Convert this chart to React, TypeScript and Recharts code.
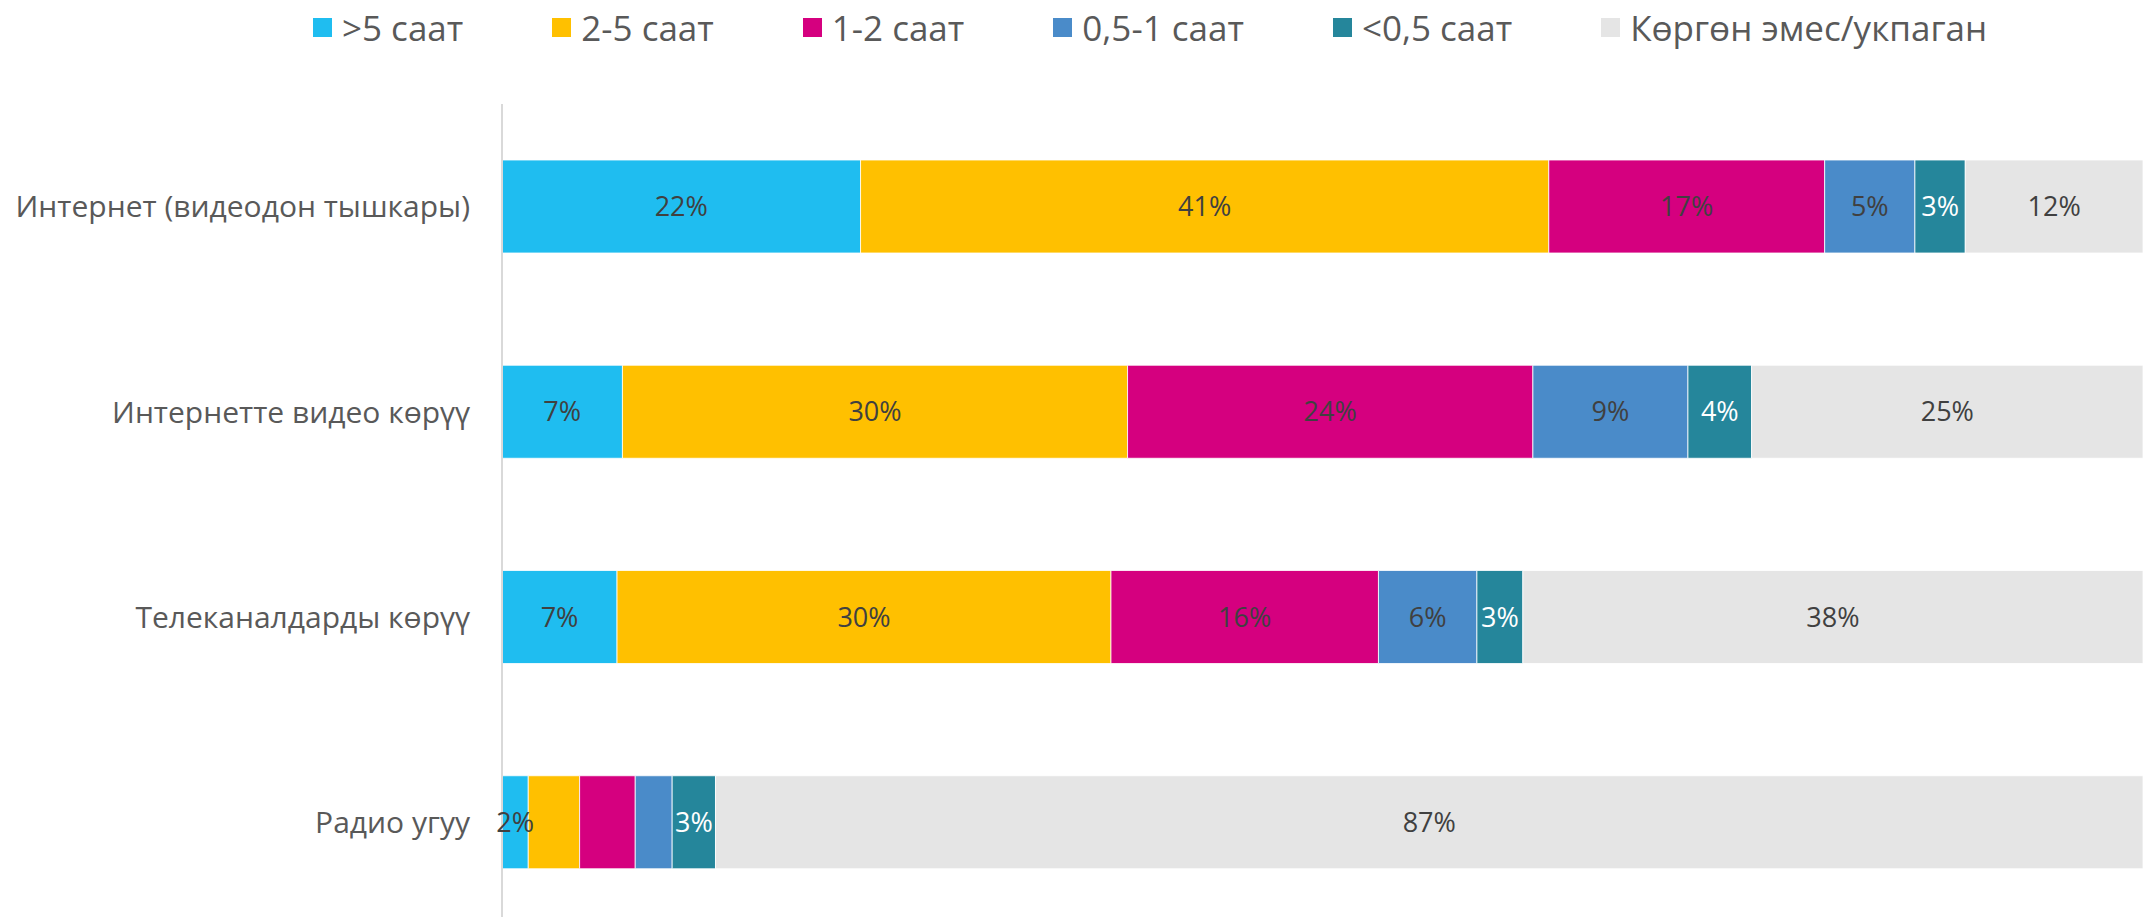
import React from 'react';
import { BarChart, Bar, XAxis, YAxis, LabelList } from 'recharts';

const categories = [
  'Интернет (видеодон тышкары)',
  'Интернетте видео көрүү',
  'Телеканалдарды көрүү',
  'Радио угуу',
];

const seriesNames = ['>5 саат', '2-5 саат', '1-2 саат', '0,5-1 саат', '<0,5 саат', 'Көргөн эмес/укпаган'];
const seriesColors = ['#1FBDF0', '#FFC000', '#D5007F', '#4A8BC9', '#25869B', '#E5E5E5'];
const labelColors = ['#404040', '#404040', '#404040', '#404040', '#FFFFFF', '#404040'];

// values (percent of respondents)
const over5 = [21.85, 7.34, 7.01, 1.6];
const from2to5 = [41.94, 30.78, 30.1, 3.13];
const from1to2 = [16.81, 24.7, 16.3, 3.39];
const from05to1 = [5.5, 9.45, 6.0, 2.25];
const under05 = [3.07, 3.88, 2.8, 2.64];
const notUsed = [10.83, 23.85, 37.79, 86.99];

// data labels as printed on the chart
const over5Labels = ['22%', '7%', '7%', '2%'];
const from2to5Labels = ['41%', '30%', '30%', ''];
const from1to2Labels = ['17%', '24%', '16%', ''];
const from05to1Labels = ['5%', '9%', '6%', ''];
const under05Labels = ['3%', '4%', '3%', '3%'];
const notUsedLabels = ['12%', '25%', '38%', '87%'];

const seriesValues = [over5, from2to5, from1to2, from05to1, under05, notUsed];
const seriesLabels = [over5Labels, from2to5Labels, from1to2Labels, from05to1Labels, under05Labels, notUsedLabels];

const data = categories.map((name, i) => {
  const row: Record<string, any> = { name };
  seriesValues.forEach((vals, s) => {
    row[`s${s}`] = vals[i];
    row[`l${s}`] = seriesLabels[s][i];
  });
  return row;
});

const FONT = "'Open Sans', 'Noto Sans', sans-serif";

function LegendBox() {
  return (
    <div
      style={{
        position: 'absolute',
        top: 4,
        left: 313,
        display: 'flex',
        alignItems: 'center',
        gap: 89,
        fontFamily: FONT,
        fontSize: 35,
        color: '#595959',
        whiteSpace: 'nowrap',
        height: 46,
      }}
    >
      {seriesNames.map((n, i) => (
        <div key={n} style={{ display: 'flex', alignItems: 'center' }}>
          <div style={{ width: 19, height: 19, background: seriesColors[i], marginRight: 10 }} />
          <span>{n}</span>
        </div>
      ))}
    </div>
  );
}

export default function App() {
  return (
    <div
      style={{
        position: 'fixed',
        left: 0,
        top: 0,
        width: 2143,
        height: 917,
        overflow: 'hidden',
        background: '#FFFFFF',
        fontFamily: FONT,
      }}
    >
      <LegendBox />
      <BarChart
        width={2143}
        height={925}
        data={data}
        layout="vertical"
        margin={{ top: 104, right: 0, bottom: 0, left: 0 }}
        style={{ position: 'absolute', left: 0, top: 0 }}
      >
        <XAxis type="number" domain={[0, 100]} hide />
        <YAxis
          type="category"
          dataKey="name"
          width={502}
          tickSize={0}
          tickMargin={32}
          tickLine={false}
          axisLine={{ stroke: '#D9D9D9', strokeWidth: 2 }}
          tick={{ fill: '#595959', fontSize: 30, fontFamily: FONT }}
        />
        {seriesNames.map((n, s) => (
          <Bar
            key={n}
            dataKey={`s${s}`}
            name={n}
            stackId="a"
            fill={seriesColors[s]}
            stroke="#FFFFFF"
            strokeWidth={0.8}
            barSize={93}
            isAnimationActive={false}
          >
            <LabelList
              dataKey={`l${s}`}
              position="center"
              fill={labelColors[s]}
              fontSize={27}
              fontFamily={FONT}
            />
          </Bar>
        ))}
      </BarChart>
    </div>
  );
}
